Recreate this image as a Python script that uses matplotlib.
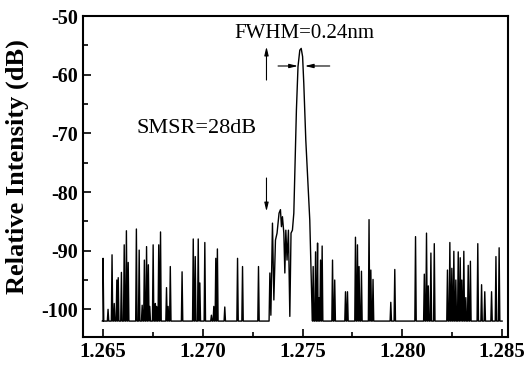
import numpy as np
import matplotlib.pyplot as plt
from matplotlib.ticker import MultipleLocator

plt.rc('font', family='Liberation Serif')
plt.rc('axes', unicode_minus=False)

# noise floor of the analyser (dB)
floor = -102.0

# isolated noise spikes: wavelength (um), peak level (dB)
spike_wl = [1.26500, 1.26525, 1.26545, 1.26556, 1.26569, 1.26576, 1.26592,
            1.26606, 1.26617, 1.26626, 1.26667, 1.26681, 1.26696, 1.26707,
            1.26718, 1.26727, 1.26734, 1.26751, 1.26762, 1.26768, 1.26779,
            1.26788, 1.26818, 1.26826, 1.26837, 1.26896, 1.26952, 1.26962,
            1.26977, 1.26985, 1.27010, 1.27043, 1.27055, 1.27065, 1.27073,
            1.27110, 1.27174, 1.27199, 1.27279,
            1.27553, 1.27565, 1.27575, 1.27581, 1.27590, 1.27598, 1.27650,
            1.27661, 1.27715, 1.27725, 1.27765, 1.27775, 1.27783, 1.27795,
            1.27833, 1.27842, 1.27853, 1.27942, 1.27962, 1.28066, 1.28110,
            1.28121, 1.28130, 1.28143, 1.28160, 1.28226, 1.28238, 1.28248,
            1.28258, 1.28268, 1.28280, 1.28290, 1.28298, 1.28308, 1.28318,
            1.28330, 1.28341, 1.28378, 1.28397, 1.28413, 1.28447, 1.28469,
            1.28485]
spike_db = [-91.3, -100.0, -90.7, -99.0, -95.0, -94.6, -93.7,
            -89.0, -86.6, -92.0, -86.3, -89.9, -99.3, -91.6,
            -89.3, -92.4, -99.5, -89.0, -99.0, -99.5, -89.0,
            -86.8, -96.3, -99.5, -92.7, -93.6, -88.0, -91.0,
            -88.0, -95.5, -88.6, -101.0, -99.5, -91.3, -89.7,
            -99.6, -91.3, -92.7, -92.7,
            -92.7, -90.2, -88.7, -98.0, -91.6, -89.2, -91.6,
            -95.0, -97.0, -97.0, -87.7, -89.0, -92.7, -93.5,
            -84.7, -93.3, -94.9, -98.8, -93.2, -87.6, -94.0,
            -87.0, -96.0, -90.4, -88.8, -93.3, -88.6, -93.0,
            -90.1, -95.0, -90.2, -91.2, -95.0, -90.1, -98.0,
            -92.5, -91.8, -88.8, -95.8, -97.0, -97.0, -91.0,
            -89.5]

# lasing mode and its shoulder, traced point by point
peak_wl = [1.27332, 1.27336, 1.27341, 1.27349, 1.27356, 1.27364, 1.27372,
           1.27382, 1.27389, 1.27394, 1.27399, 1.27406, 1.27411, 1.27416,
           1.27422, 1.27429, 1.27436, 1.27442, 1.27449, 1.27456, 1.27462,
           1.27469, 1.27477, 1.27486, 1.27493, 1.27500, 1.27506, 1.27516,
           1.27528, 1.27536, 1.27541, 1.27546]
peak_db = [-102.0, -93.8, -101.0, -85.3, -98.4, -88.2, -87.0,
           -83.6, -83.0, -85.9, -84.2, -87.0, -93.8, -86.5,
           -91.6, -86.5, -101.2, -87.0, -86.5, -83.6, -75.7,
           -66.0, -58.6, -55.8, -55.5, -56.9, -61.5, -71.1,
           -79.1, -84.8, -91.6, -98.4]

wl_start, wl_end = 1.2650, 1.2850

# assemble the trace: each spike is a narrow triangle on the floor
hw = 3.5e-5
pts = [(wl_start, floor), (wl_end, floor)]
for w, d in zip(spike_wl, spike_db):
    pts += [(w - hw, floor), (w, d), (w + hw, floor)]
pts = [p for p in pts if not (peak_wl[0] <= p[0] <= peak_wl[-1])]
pts += list(zip(peak_wl, peak_db))
pts.sort()
x = np.array([p[0] for p in pts])
y = np.array([p[1] for p in pts])

fig = plt.figure(figsize=(5.26, 3.67), dpi=100)
ax = fig.add_axes([0.158, 0.082, 0.808, 0.874])
ax.plot(x, y, 'k', lw=1.0)

ax.set_xlim(1.264, 1.2853)
ax.set_ylim(-104.7, -50)
ax.xaxis.set_major_locator(MultipleLocator(0.005))
ax.xaxis.set_minor_locator(MultipleLocator(0.0025))
ax.yaxis.set_major_locator(MultipleLocator(10))
ax.yaxis.set_minor_locator(MultipleLocator(5))
ax.xaxis.set_major_formatter(plt.FormatStrFormatter('%.3f'))
ax.tick_params(which='both', direction='in', top=False, right=False)
ax.tick_params(which='major', length=6, width=1.2)
ax.tick_params(which='minor', length=3.5, width=1.2)
for s in ax.spines.values():
    s.set_linewidth(1.5)
for lab in ax.get_xticklabels():
    lab.set_fontweight('bold')
    lab.set_fontsize(15)
for lab in ax.get_yticklabels():
    lab.set_fontweight('bold')
    lab.set_fontsize(14.5)
ax.set_ylabel('Relative Intensity (dB)', fontsize=19, fontweight='bold')
ax.yaxis.set_label_coords(-0.128, 0.53)

ax.text(1.27509, -52.9, 'FWHM=0.24nm', fontsize=15, ha='center', va='center')
ax.text(1.26970, -69.2, 'SMSR=28dB', fontsize=16, ha='center', va='center')

aprops = dict(arrowstyle='-|>,head_length=0.5,head_width=0.12', color='k', lw=0.8,
              shrinkA=0, shrinkB=0)
ax.annotate('', xy=(1.27319, -55.2), xytext=(1.27319, -60.9), arrowprops=aprops)
ax.annotate('', xy=(1.27319, -83.3), xytext=(1.27319, -77.6), arrowprops=aprops)
ax.annotate('', xy=(1.27477, -58.5), xytext=(1.27377, -58.5), arrowprops=aprops)
ax.annotate('', xy=(1.27511, -58.5), xytext=(1.27636, -58.5), arrowprops=aprops)

fig.savefig('out.png', dpi=100)
